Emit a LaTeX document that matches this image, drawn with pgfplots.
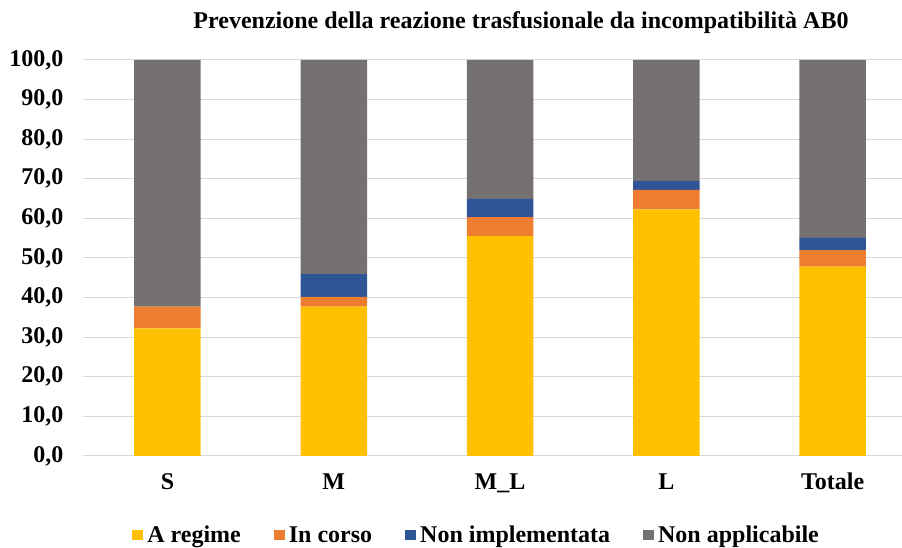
\documentclass[border=0pt]{standalone}
\usepackage{fontspec}
\setmainfont{Liberation Serif}
\usepackage{pgfplots}
\pgfplotsset{compat=1.18}
\definecolor{cy}{HTML}{FFC000}
\definecolor{co}{HTML}{ED7D31}
\definecolor{cb}{HTML}{2F5597}
\definecolor{cg}{HTML}{767171}
\definecolor{grd}{HTML}{D9D9D9}
\begin{document}
\begin{tikzpicture}[x=1pt,y=1pt]
\useasboundingbox (0,0) rectangle (902,548);
\begin{axis}[
  at={(83pt,92pt)}, anchor=south west,
  scale only axis, width=819pt, height=396pt,
  ybar stacked, bar width=66.5pt,
  xmin=-0.508, xmax=4.417, ymin=0, ymax=100,
  xtick={0,1,2,3,4}, xticklabels={S,M,M\_L,L,Totale},
  ytick={0,10,...,100},
  axis x line*=bottom, axis y line*=left,
  y axis line style={draw=none},
  x axis line style={grd, line width=1pt},
  major tick length=0pt,
  ymajorgrids, grid style={grd, line width=1pt},
  ticklabel style={font=\fontsize{24}{26}\selectfont\bfseries},
  yticklabel style={xshift=-16pt},
  xticklabel style={yshift=-23pt, text height=1.6ex, text depth=0.3ex},
  /pgf/number format/.cd, fixed, fixed zerofill, precision=1, use comma, assume math mode=true,
  /pgfplots/.cd,
  legend style={at={(0.06,-0.1995)}, anchor=west, draw=none, fill=none, inner sep=0pt,
    font=\fontsize{24}{26}\selectfont\bfseries, legend columns=4,
    nodes={inner xsep=4pt},
    /tikz/every even column/.style={column sep=29pt}},
  legend image code/.code={\fill[#1] (0pt,-5pt) rectangle (11pt,5pt);},
]
\addplot[fill=cy, draw=none] coordinates {(0,32.2) (1,37.7) (2,55.6) (3,62.3) (4,47.8)};
\addplot[fill=co, draw=none] coordinates {(0,5.5) (1,2.5) (2,4.7) (3,4.9) (4,4.2)};
\addplot[fill=cb, draw=none] coordinates {(0,0) (1,5.7) (2,4.6) (3,2.3) (4,3.1)};
\addplot[fill=cg, draw=none] coordinates {(0,62.3) (1,54.1) (2,35.1) (3,30.5) (4,44.9)};
\legend{A regime, In corso, Non implementata, Non applicabile}
\end{axis}
\node[font=\fontsize{24}{26}\selectfont\bfseries] at (521,525) {Prevenzione della reazione trasfusionale da incompatibilità AB0};
\end{tikzpicture}
\end{document}
